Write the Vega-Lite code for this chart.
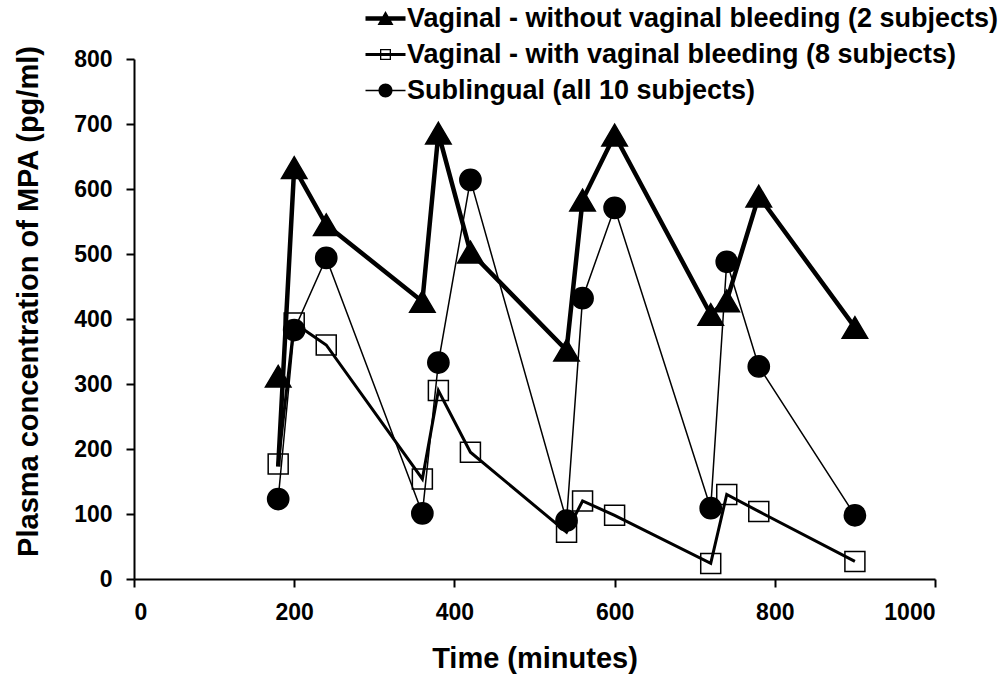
{
  "$schema": "https://vega.github.io/schema/vega-lite/v6.json",
  "width": 801,
  "height": 520,
  "autosize": "none",
  "padding": {"left": 134, "top": 59, "right": 65, "bottom": 98},
  "background": "white",
  "config": {
    "view": {"stroke": null},
    "axis": {
      "grid": false,
      "domainColor": "black",
      "domainWidth": 2,
      "tickColor": "black",
      "tickWidth": 2,
      "tickSize": 8,
      "labelFont": "Liberation Sans",
      "labelFontWeight": "bold",
      "labelFontSize": 23,
      "labelColor": "black",
      "titleFont": "Liberation Sans",
      "titleFontWeight": "bold",
      "titleFontSize": 29,
      "titleColor": "black"
    }
  },
  "data": {
    "values": [
      {"series": "Vaginal - without vaginal bleeding (2 subjects)", "t": 180, "c": 312, "l": 173},
      {"series": "Vaginal - without vaginal bleeding (2 subjects)", "t": 200, "c": 633, "l": 633},
      {"series": "Vaginal - without vaginal bleeding (2 subjects)", "t": 240, "c": 545, "l": 545},
      {"series": "Vaginal - without vaginal bleeding (2 subjects)", "t": 360, "c": 427, "l": 427},
      {"series": "Vaginal - without vaginal bleeding (2 subjects)", "t": 380, "c": 686, "l": 686},
      {"series": "Vaginal - without vaginal bleeding (2 subjects)", "t": 420, "c": 503, "l": 503},
      {"series": "Vaginal - without vaginal bleeding (2 subjects)", "t": 540, "c": 352, "l": 352},
      {"series": "Vaginal - without vaginal bleeding (2 subjects)", "t": 560, "c": 583, "l": 583},
      {"series": "Vaginal - without vaginal bleeding (2 subjects)", "t": 600, "c": 683, "l": 683},
      {"series": "Vaginal - without vaginal bleeding (2 subjects)", "t": 720, "c": 407, "l": 407},
      {"series": "Vaginal - without vaginal bleeding (2 subjects)", "t": 740, "c": 428, "l": 428},
      {"series": "Vaginal - without vaginal bleeding (2 subjects)", "t": 780, "c": 589, "l": 589},
      {"series": "Vaginal - without vaginal bleeding (2 subjects)", "t": 900, "c": 387, "l": 387},
      {"series": "Vaginal - with vaginal bleeding (8 subjects)", "t": 180, "c": 177, "l": 177},
      {"series": "Vaginal - with vaginal bleeding (8 subjects)", "t": 200, "c": 394, "l": 394},
      {"series": "Vaginal - with vaginal bleeding (8 subjects)", "t": 240, "c": 360, "l": 360},
      {"series": "Vaginal - with vaginal bleeding (8 subjects)", "t": 360, "c": 154, "l": 154},
      {"series": "Vaginal - with vaginal bleeding (8 subjects)", "t": 380, "c": 290, "l": 290},
      {"series": "Vaginal - with vaginal bleeding (8 subjects)", "t": 420, "c": 195, "l": 195},
      {"series": "Vaginal - with vaginal bleeding (8 subjects)", "t": 540, "c": 72, "l": 72},
      {"series": "Vaginal - with vaginal bleeding (8 subjects)", "t": 560, "c": 120, "l": 120},
      {"series": "Vaginal - with vaginal bleeding (8 subjects)", "t": 600, "c": 98, "l": 98},
      {"series": "Vaginal - with vaginal bleeding (8 subjects)", "t": 720, "c": 24, "l": 24},
      {"series": "Vaginal - with vaginal bleeding (8 subjects)", "t": 740, "c": 130, "l": 130},
      {"series": "Vaginal - with vaginal bleeding (8 subjects)", "t": 780, "c": 104, "l": 104},
      {"series": "Vaginal - with vaginal bleeding (8 subjects)", "t": 900, "c": 27, "l": 27},
      {"series": "Sublingual (all 10 subjects)", "t": 180, "c": 123, "l": 123},
      {"series": "Sublingual (all 10 subjects)", "t": 200, "c": 383, "l": 383},
      {"series": "Sublingual (all 10 subjects)", "t": 240, "c": 494, "l": 494},
      {"series": "Sublingual (all 10 subjects)", "t": 360, "c": 101, "l": 101},
      {"series": "Sublingual (all 10 subjects)", "t": 380, "c": 333, "l": 333},
      {"series": "Sublingual (all 10 subjects)", "t": 420, "c": 614, "l": 614},
      {"series": "Sublingual (all 10 subjects)", "t": 540, "c": 90, "l": 90},
      {"series": "Sublingual (all 10 subjects)", "t": 560, "c": 432, "l": 432},
      {"series": "Sublingual (all 10 subjects)", "t": 600, "c": 571, "l": 571},
      {"series": "Sublingual (all 10 subjects)", "t": 720, "c": 109, "l": 109},
      {"series": "Sublingual (all 10 subjects)", "t": 740, "c": 488, "l": 488},
      {"series": "Sublingual (all 10 subjects)", "t": 780, "c": 327, "l": 327},
      {"series": "Sublingual (all 10 subjects)", "t": 900, "c": 98, "l": 98}
    ]
  },
  "encoding": {
    "x": {
      "field": "t",
      "type": "quantitative",
      "scale": {"domain": [0, 1000], "nice": false, "zero": false},
      "axis": {
        "values": [0, 200, 400, 600, 800, 1000],
        "format": "d",
        "title": "Time (minutes)",
        "labelPadding": 14,
        "titleY": 88,
        "titleBaseline": "alphabetic"
      }
    }
  },
  "layer": [
    {
      "mark": {"type": "line", "color": "black", "strokeJoin": "miter", "strokeCap": "butt"},
      "encoding": {
        "y": {
          "field": "l",
          "type": "quantitative",
          "scale": {"domain": [0, 800], "nice": false},
          "axis": {
            "values": [0, 100, 200, 300, 400, 500, 600, 700, 800],
            "title": "Plasma concentration of MPA (pg/ml)",
            "labelPadding": 14,
            "titleAngle": -90,
            "titleX": -97,
            "titleY": 242,
            "titleAlign": "center",
            "titleBaseline": "alphabetic"
          }
        },
        "detail": {"field": "series", "type": "nominal"},
        "strokeWidth": {
          "condition": [
            {"test": "datum.series === 'Vaginal - without vaginal bleeding (2 subjects)'", "value": 4.5},
            {"test": "datum.series === 'Vaginal - with vaginal bleeding (8 subjects)'", "value": 3}
          ],
          "value": 1.5
        }
      }
    },
    {
      "mark": {"type": "point", "filled": false, "strokeWidth": 1.5, "opacity": 1},
      "encoding": {
        "y": {"field": "c", "type": "quantitative"},
        "stroke": {
          "field": "series",
          "type": "nominal",
          "scale": {
            "domain": ["Vaginal - without vaginal bleeding (2 subjects)", "Vaginal - with vaginal bleeding (8 subjects)", "Sublingual (all 10 subjects)"],
            "range": ["black", "black", "black"]
          },
          "legend": {
            "title": null,
            "orient": "none",
            "legendX": 238,
            "legendY": -54,
            "padding": 0,
            "rowPadding": 8,
            "symbolSize": 400,
            "symbolStrokeWidth": 0,
            "symbolFillColor": "black",
            "symbolType": {"expr": "indexof(datum.label, 'without') >= 0 ? 'M-2,-0.22L2,-0.22L2,0.22L-2,0.22Z M0,-0.75L0.8,0.65L-0.8,0.65Z' : (indexof(datum.label, 'Sublingual') >= 0 ? 'M-2,-0.07L2,-0.07L2,0.07L-2,0.07Z M-0.7,0A0.7,0.7 0 1,1 0.7,0A0.7,0.7 0 1,1 -0.7,0Z' : 'M-2,-0.15L2,-0.15L2,0.15L-2,0.15Z M-0.55,-0.55L0.55,-0.55L0.55,0.55L-0.55,0.55Z M-0.42,-0.42L-0.42,0.42L0.42,0.42L0.42,-0.42Z')"},
            "labelOffset": 8,
            "labelFont": "Liberation Sans",
            "labelFontWeight": "bold",
            "labelFontSize": 27,
            "labelColor": "black",
            "labelLimit": 1000,
            "encode": {
              "symbols": {
                "update": {
                  "fill": {"value": "black"},
                  "strokeWidth": {"value": 0},
                  "size": {"value": 400},
                  "opacity": {"value": 1}
                }
              }
            }
          }
        },
        "shape": {
          "condition": [
            {"test": "datum.series === 'Vaginal - without vaginal bleeding (2 subjects)'", "value": "M0,-0.85L1,0.85L-1,0.85Z"},
            {"test": "datum.series === 'Vaginal - with vaginal bleeding (8 subjects)'", "value": "square"}
          ],
          "value": "circle"
        },
        "fill": {
          "condition": {"test": "datum.series === 'Vaginal - with vaginal bleeding (8 subjects)'", "value": "transparent"},
          "value": "black"
        },
        "size": {
          "condition": [
            {"test": "datum.series === 'Vaginal - without vaginal bleeding (2 subjects)'", "value": 650},
            {"test": "datum.series === 'Vaginal - with vaginal bleeding (8 subjects)'", "value": 400}
          ],
          "value": 450
        }
      }
    }
  ]
}
